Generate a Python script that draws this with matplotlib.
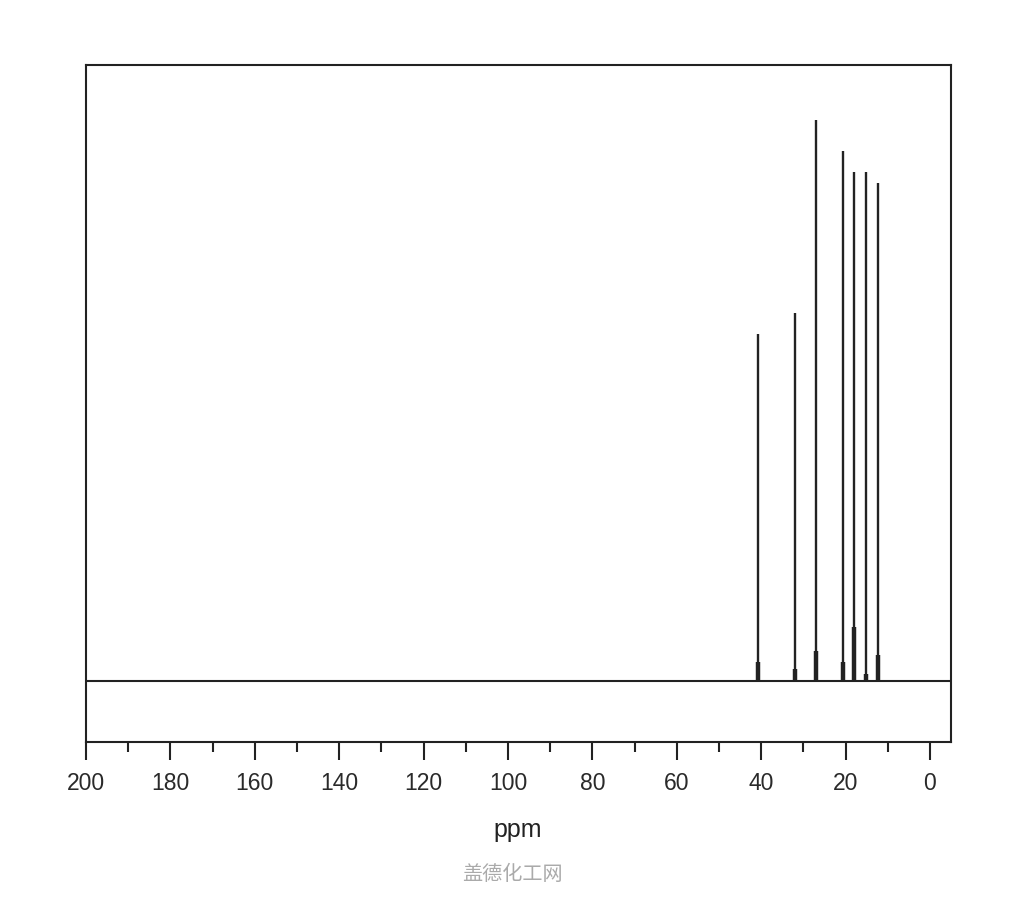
"""
13C NMR spectrum, peaks drawn as sticks on a flat baseline
"""
import numpy as np
import matplotlib
matplotlib.use("Agg")
import matplotlib.pyplot as plt
from matplotlib.ticker import MultipleLocator

# peak positions (ppm) and heights (tallest = 100)
shifts = [40.7, 31.9, 26.9, 20.6, 18.1, 15.1, 12.2]
heights = [61.9, 65.7, 100.0, 94.6, 90.8, 90.8, 88.8]
# broader foot of each line near the baseline
foot_heights = [3.4, 2.1, 5.2, 3.4, 9.5, 1.2, 4.6]

x_major = [200, 180, 160, 140, 120, 100, 80, 60, 40, 20, 0]

ink = "#222222"

fig = plt.figure(figsize=(10.24, 9), dpi=100)
ax = fig.add_axes([0.084, 0.1759, 0.8447, 0.7519])

ax.axhline(0, color=ink, lw=1.5, zorder=2)
ax.vlines(shifts, 0, heights, color=ink, lw=1.7, zorder=3)
ax.vlines(shifts, 0, foot_heights, color=ink, lw=3.2, zorder=3)

ax.set_xlim(200, -5)
ax.set_ylim(-10.9, 109.9)

ax.set_xticks(x_major)
ax.xaxis.set_minor_locator(MultipleLocator(10))
ax.tick_params(axis="x", which="major", direction="out", length=13,
               width=1.5, color=ink, labelsize=16.5, pad=9,
               labelcolor="#2a2a2a")
ax.tick_params(axis="x", which="minor", direction="out", length=7,
               width=1.5, color=ink)
ax.set_yticks([])
for lab in ax.get_xticklabels():
    lab.set_family("Liberation Sans")

for s in ax.spines.values():
    s.set_linewidth(1.5)
    s.set_color(ink)

fig.text(0.506, 1 - 830 / 900, "ppm", ha="center", va="center",
         fontsize=18, family="Liberation Sans", color="#222222")
fig.text(0.5, 1 - 874 / 900, "盖德化工网", ha="center", va="center",
         fontsize=14.5, family=["Noto Sans CJK SC", "DejaVu Sans"],
         color="#aaaaaa")

fig.savefig("out.png", dpi=100)
